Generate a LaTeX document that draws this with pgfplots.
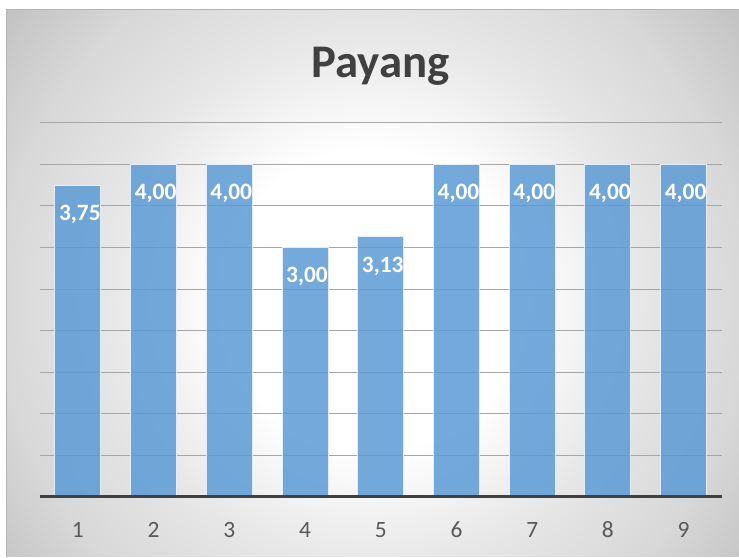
\documentclass[border=0pt]{standalone}
\usepackage{fontspec}
\setmainfont{Carlito}
\usepackage{pgfplots}
\pgfplotsset{compat=1.18}
\definecolor{barblue}{HTML}{5B9BD5}
\definecolor{titlegray}{HTML}{404040}
\definecolor{tickgray}{HTML}{595959}
\definecolor{gridgray}{HTML}{A6A6A6}
\definecolor{bgA}{RGB}{230,230,230}
\definecolor{bgB}{RGB}{216,216,216}
\definecolor{bgC}{RGB}{196,196,196}
\definecolor{bgD}{RGB}{190,190,190}
\pgfdeclareradialshading{bgshade}{\pgfpoint{0bp}{0bp}}{color(0bp)=(white); color(7.5bp)=(white); color(13.5bp)=(bgA); color(18.6bp)=(bgB); color(23bp)=(bgC); color(25bp)=(bgD); color(50bp)=(bgD)}
\begin{document}
\begin{tikzpicture}[x=1bp,y=1bp]
\fill[white] (0,0) rectangle (739,557);
\begin{scope}
\clip (7,0) rectangle (739,547);
\shade[shading=bgshade] (-127,-243) rectangle (873,757);
\end{scope}
\draw[color={rgb,255:red,180;green,180;blue,180}, line width=1bp] (7,0) -- (7,547) -- (739,547);
\node[font=\fontsize{47}{50}\selectfont\bfseries, text=titlegray, anchor=base, inner sep=0pt] at (381,479) {Payang};
\begin{axis}[
  at={(40bp,60bp)}, anchor=south west,
  scale only axis, width=682bp, height=374bp,
  xmin=0.5, xmax=9.5, ymin=0, ymax=4.5,
  ytick={0.5,1,...,4.5}, yticklabels={},
  ymajorgrids, grid style={gridgray, line width=1bp},
  major tick length=0pt,
  axis line style={draw=none},
  xtick={1,...,9},
  /pgf/number format/assume math mode=true,
  xticklabel style={font=\fontsize{23.5}{26}\selectfont, text=tickgray, anchor=base, yshift=-41bp, inner sep=0pt},
  ybar, bar width=46bp, bar shift=0pt,
  nodes near coords={\pgfmathprintnumber[fixed, fixed zerofill, precision=2, use comma, assume math mode=true]{\pgfplotspointmeta}},
  every node near coord/.append style={font=\fontsize{23.5}{26}\selectfont\bfseries, text=white, anchor=base, yshift=-35.5bp, xshift=2bp, inner sep=0pt},
  clip=false,
]
\addplot[fill=barblue, fill opacity=0.85, draw={rgb,255:red,225;green,238;blue,249}, line width=1bp, text opacity=1]
  coordinates {(1,3.75) (2,4.00) (3,4.00) (4,3.00) (5,3.13) (6,4.00) (7,4.00) (8,4.00) (9,4.00)};
\draw[line width=3bp, titlegray] (axis cs:0.5,0) -- (axis cs:9.5,0);
\end{axis}
\end{tikzpicture}
\end{document}
